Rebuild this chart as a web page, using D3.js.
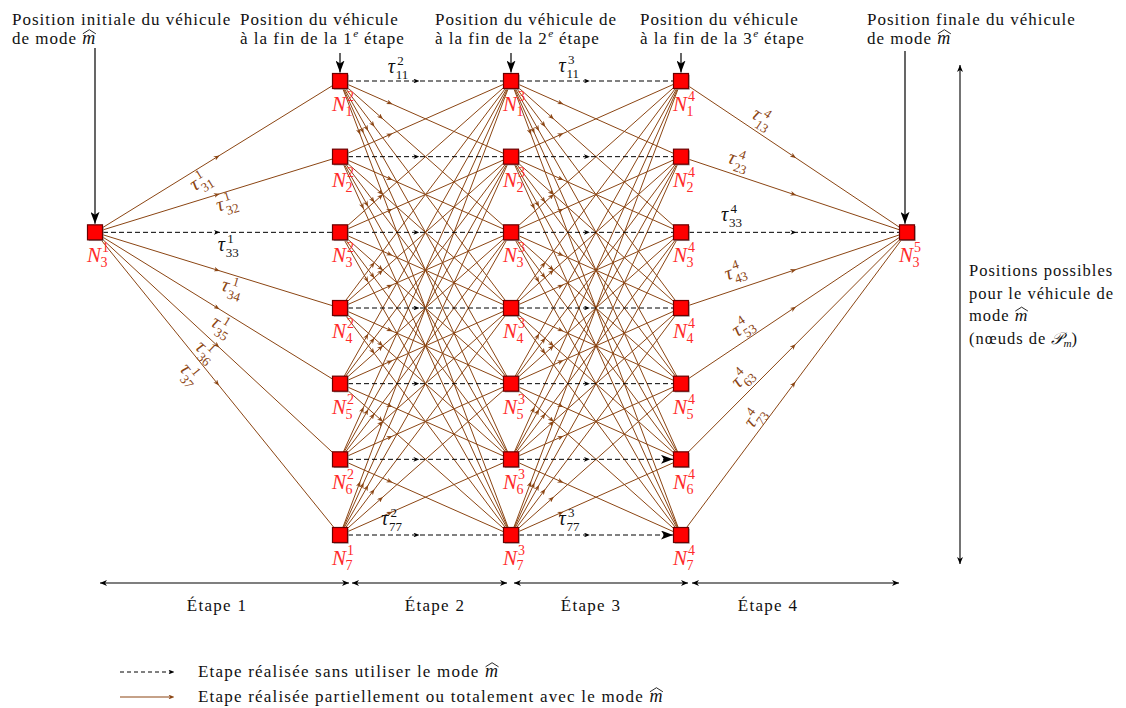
<!DOCTYPE html>
<html><head><meta charset="utf-8">
<script src="https://cdn.jsdelivr.net/npm/d3@7"></script>
<style>body{margin:0;background:#fff} svg{font-family:"Liberation Serif","DejaVu Serif",serif} text{font-family:"Liberation Serif","DejaVu Serif",serif;fill:#111}</style>
</head><body><svg id="c" width="1126" height="708"></svg>
<script>
// ---------------- DATA ----------------
const columns = [1, 2, 3, 4, 5];           // superscript of node (position index)
const rows = [1, 2, 3, 4, 5, 6, 7];        // possible positions
const startRow = 3, endRow = 3;
// superscript shown under each node (col 2 row 7 is labelled N_7^1 in the original)
const nodeSup = {1: [1], 2: [2, 2, 2, 2, 2, 2, 1], 3: [3, 3, 3, 3, 3, 3, 3], 4: [4, 4, 4, 4, 4, 4, 4], 5: [5]};
const stageNames = ["Étape 1", "Étape 2", "Étape 3", "Étape 4"];
const topLabels = [
  ["Position initiale du véhicule", "de mode |m"],
  ["Position du véhicule", "à la fin de la 1^e étape"],
  ["Position du véhicule de", "à la fin de la 2^e étape"],
  ["Position du véhicule", "à la fin de la 3^e étape"],
  ["Position finale du véhicule", "de mode |m"]
];
const rightText = ["Positions possibles", "pour le véhicule de", "mode |m", "(nœuds de P_m)"];
const legendTexts = ["Etape réalisée sans utiliser le mode |m", "Etape réalisée partiellement ou totalement avec le mode |m"];
// tau labels : stage, from row, to row
const tauLabels = [
  {s: 1, i: 3, j: 1}, {s: 1, i: 3, j: 2}, {s: 1, i: 3, j: 3}, {s: 1, i: 3, j: 4}, {s: 1, i: 3, j: 5}, {s: 1, i: 3, j: 6}, {s: 1, i: 3, j: 7},
  {s: 2, i: 1, j: 1}, {s: 2, i: 7, j: 7},
  {s: 3, i: 1, j: 1}, {s: 3, i: 7, j: 7},
  {s: 4, i: 1, j: 3}, {s: 4, i: 2, j: 3}, {s: 4, i: 3, j: 3}, {s: 4, i: 4, j: 3}, {s: 4, i: 5, j: 3}, {s: 4, i: 6, j: 3}, {s: 4, i: 7, j: 3}
];

// ---------------- LAYOUT ----------------
const BROWN = "#8B4513", RED = "#ff2a2a";
const x = d3.scaleOrdinal().domain(columns).range([95, 340, 511, 681, 907]);
const y = d3.scalePoint().domain(rows).range([81, 535]);
// label placement along edge (t) and perpendicular offset, same order as tauLabels
const tauPlace = [
  [0.41, 13.5], [0.53, 12.7], [0.55, 15], [0.58, 14], [0.55, 14.7], [0.49, 13.5], [0.44, 17],
  [0.35, -12], [0.31, -14],
  [0.35, -13], [0.35, -14],
  [0.33, -12.8], [0.24, -13.1], [0.23, -15], [0.27, -15.6], [0.31, -11.2], [0.32, -12.8], [0.37, -10]
];

const svg = d3.select("#c");
const defs = svg.append("defs");
function marker(id, color, len, half, orient) {
  defs.append("marker").attr("id", id).attr("viewBox", `0 ${-half} ${len} ${2 * half}`)
    .attr("refX", len * 0.6).attr("refY", 0).attr("markerWidth", len).attr("markerHeight", 2 * half)
    .attr("markerUnits", "userSpaceOnUse").attr("orient", orient || "auto")
    .append("path").attr("d", `M0,${-half} L${len},0 L0,${half} L${len * 0.3},0 Z`).attr("fill", color);
}
marker("mb", BROWN, 6, 2.4);
marker("mk", "#000", 6, 2.4);
defs.append("marker").attr("id", "bigE").attr("viewBox", "0 -4.5 12 9").attr("refX", 12).attr("refY", 0)
  .attr("markerWidth", 12).attr("markerHeight", 9).attr("markerUnits", "userSpaceOnUse").attr("orient", "auto")
  .append("path").attr("d", "M0,-4.5 L12,0 L0,4.5 L3,0 Z").attr("fill", "#000");
defs.append("marker").attr("id", "dblE").attr("viewBox", "0 -3 7 6").attr("refX", 7).attr("refY", 0)
  .attr("markerWidth", 7).attr("markerHeight", 6).attr("markerUnits", "userSpaceOnUse").attr("orient", "auto-start-reverse")
  .append("path").attr("d", "M0,-3 L7,0 L0,3 L2,0 Z").attr("fill", "#000");

// ---------------- EDGES ----------------
const edges = [];
rows.forEach(j => edges.push({s: 1, a: [1, startRow], b: [2, j]}));
[2, 3].forEach(s => rows.forEach(i => rows.forEach(j => edges.push({s, a: [s, i], b: [s + 1, j]}))));
rows.forEach(i => edges.push({s: 4, a: [4, i], b: [5, endRow]}));
edges.forEach(e => {
  e.x1 = x(e.a[0]); e.y1 = y(e.a[1]); e.x2 = x(e.b[0]); e.y2 = y(e.b[1]);
  e.dashed = e.a[1] === e.b[1];
  const len = Math.hypot(e.x2 - e.x1, e.y2 - e.y1);
  let t;
  if (e.s === 1 || e.s === 4) t = 0.5;
  else t = e.dashed ? 0.45 : 55 / len;
  e.mx = e.x1 + t * (e.x2 - e.x1); e.my = e.y1 + t * (e.y2 - e.y1);
});
const line = d3.line();
const gE = svg.append("g");
gE.selectAll("path.b").data(edges.filter(e => !e.dashed)).join("path")
  .attr("d", e => line([[e.x1, e.y1], [e.mx, e.my], [e.x2, e.y2]]))
  .attr("fill", "none").attr("stroke", BROWN).attr("stroke-width", 1).attr("marker-mid", "url(#mb)");
gE.selectAll("path.k").data(edges.filter(e => e.dashed)).join("path")
  .attr("d", e => line([[e.x1, e.y1], [e.mx, e.my], [e.x2 - (e.s === 3 && e.a[1] >= 6 ? 8 : 0), e.y2]]))
  .attr("fill", "none").attr("stroke", "#000").attr("stroke-width", 1).attr("stroke-dasharray", "5,3")
  .attr("marker-mid", "url(#mk)")
  .attr("marker-end", e => (e.s === 3 && e.a[1] >= 6) ? "url(#bigE)" : null);

// ---------------- NODES ----------------
const nodes = [];
columns.forEach(c => {
  const rs = (c === 1) ? [startRow] : (c === 5 ? [endRow] : rows);
  rs.forEach((r, k) => nodes.push({c, r, sup: nodeSup[c][k]}));
});
const S = 15;
const gN = svg.append("g");
gN.selectAll("rect.sh").data(nodes).join("rect")
  .attr("x", d => x(d.c) - S / 2 + 1.2).attr("y", d => y(d.r) - S / 2 + 1.2).attr("width", S).attr("height", S)
  .attr("fill", "#999");
gN.selectAll("rect.n").data(nodes).join("rect")
  .attr("x", d => x(d.c) - S / 2).attr("y", d => y(d.r) - S / 2).attr("width", S).attr("height", S)
  .attr("fill", "#ff0000").attr("stroke", "#6a0000").attr("stroke-width", 1.2);

// math label helper : base with stacked sup/sub
function mathLabel(parent, base, sup, sub, bs, ss, color, bw, supY, subY) {
  const g = parent.append("g");
  g.append("text").attr("x", 0).attr("y", 0).style("font-style", "italic").style("font-size", bs + "px")
    .style("fill", color).text(base);
  g.append("text").attr("x", bw).attr("y", supY).style("font-size", ss + "px").style("fill", color).text(sup);
  g.append("text").attr("x", bw - 1.5).attr("y", subY).style("font-size", ss + "px").style("fill", color).text(sub);
  return g;
}
nodes.forEach(d => {
  mathLabel(svg, "N", d.sup, d.r, 21, 14, RED, 15, -10, 5)
    .attr("transform", `translate(${x(d.c) - 8},${y(d.r) + 30})`);
});

// ---------------- TAU LABELS ----------------
tauLabels.forEach((L, k) => {
  const x1 = x(L.s), y1 = y(L.i), x2 = x(L.s + 1), y2 = y(L.j);
  const [t, off] = tauPlace[k];
  const dashed = L.i === L.j;
  const a = dashed ? 0 : Math.atan2(y2 - y1, x2 - x1);
  const px = x1 + t * (x2 - x1) - off * Math.sin(a), py = y1 + t * (y2 - y1) + off * Math.cos(a);
  const g = svg.append("g").attr("transform", `translate(${px},${py}) rotate(${a * 180 / Math.PI})`);
  mathLabel(g, "τ", L.s, `${L.i}${L.j}`, 20, 13, dashed ? "#111" : BROWN, 9.5, -8, 6)
    .attr("transform", "translate(-12,4)");
});

// ---------------- TEXT HELPERS ----------------
function richText(xp, yp, str, size, ls) {
  // "|m" => italic m with wide hat ; "^e" => superscript ; "_m" => subscript ; "P" before _m => script P
  let cx = xp;
  const parts = str.split(/(\|m|\^e|_m)/).filter(p => p.length);
  parts.forEach(p => {
    if (p === "|m") {
      const t = svg.append("text").attr("x", cx).attr("y", yp).style("font-style", "italic").style("font-size", (size + 1) + "px").text("m");
      const w = t.node().getComputedTextLength();
      svg.append("path").attr("d", `M${cx + 0.5},${yp - size * 0.6} L${cx + w / 2 + 0.5},${yp - size * 0.84} L${cx + w + 0.5},${yp - size * 0.6}`)
        .attr("fill", "none").attr("stroke", "#111").attr("stroke-width", 0.9);
      cx += w;
    } else if (p === "^e") {
      const t = svg.append("text").attr("x", cx + 0.5).attr("y", yp - size * 0.4).style("font-style", "italic").style("font-size", (size * 0.66) + "px").text("e");
      cx += t.node().getComputedTextLength() + 1;
    } else if (p === "_m") {
      const t = svg.append("text").attr("x", cx).attr("y", yp + size * 0.22).style("font-style", "italic").style("font-size", (size * 0.68) + "px").text("m");
      cx += t.node().getComputedTextLength();
    } else {
      let s = p, script = false;
      if (s.endsWith("P")) { s = s.slice(0, -1); script = true; }
      const t = svg.append("text").attr("x", cx).attr("y", yp).style("font-size", size + "px")
        .style("letter-spacing", ls + "px").style("white-space", "pre").text(s);
      cx += t.node().getComputedTextLength();
      if (script) {
        const t2 = svg.append("text").attr("x", cx).attr("y", yp).style("font-size", size + "px")
          .style("font-family", "'DejaVu Serif','Noto Sans',serif").style("font-style", "italic").text("𝒫");
        cx += t2.node().getComputedTextLength();
      }
    }
  });
  return cx;
}

// top labels
const topX = [12, 240, 435, 640, 867];
topLabels.forEach((lines, k) => {
  richText(topX[k], 25, lines[0], 17, 1.0);
  richText(topX[k], 44, lines[1], 17, 1.0);
});
// down arrows to nodes
const downArrows = [[1, 48], [2, 53], [3, 53], [4, 53], [5, 51]];
downArrows.forEach(([c, y0]) => {
  const r = (c === 1) ? startRow : (c === 5 ? endRow : 1);
  const xx = c === 5 ? x(c) - 2 : x(c);
  svg.append("line").attr("x1", xx).attr("y1", y0).attr("x2", xx).attr("y2", y(r) - S / 2 - 1)
    .attr("stroke", "#000").attr("stroke-width", 1.2).attr("marker-end", "url(#bigE)");
});

// right vertical double arrow
svg.append("line").attr("x1", 960).attr("y1", 65).attr("x2", 960).attr("y2", 564)
  .attr("stroke", "#000").attr("stroke-width", 1.1).attr("marker-start", "url(#dblE)").attr("marker-end", "url(#dblE)");
rightText.forEach((s, k) => richText(969, 276 + k * 22.5, s, 16.5, 1.0));

// stage double arrows
const stageSpans = [[100, 349], [352, 507], [514, 688], [692, 899]];
stageSpans.forEach(([a, b]) => {
  svg.append("line").attr("x1", a).attr("y1", 583).attr("x2", b).attr("y2", 583)
    .attr("stroke", "#000").attr("stroke-width", 1.1).attr("marker-start", "url(#dblE)").attr("marker-end", "url(#dblE)");
});
const stageLabelX = [217, 435, 591, 768];
stageNames.forEach((s, k) => svg.append("text").attr("x", stageLabelX[k]).attr("y", 611)
  .attr("text-anchor", "middle").style("font-size", "17px").style("letter-spacing", "1.3px").text(s));

// legend
svg.append("line").attr("x1", 120).attr("y1", 672).attr("x2", 172).attr("y2", 672)
  .attr("stroke", "#000").attr("stroke-width", 1).attr("stroke-dasharray", "4,3").attr("marker-end", "url(#mk)");
svg.append("line").attr("x1", 120).attr("y1", 697).attr("x2", 172).attr("y2", 697)
  .attr("stroke", BROWN).attr("stroke-width", 1.1).attr("marker-end", "url(#mb)");
richText(198, 677, legendTexts[0], 17, 1.2);
richText(198, 702, legendTexts[1], 17, 1.2);
</script></body></html>
